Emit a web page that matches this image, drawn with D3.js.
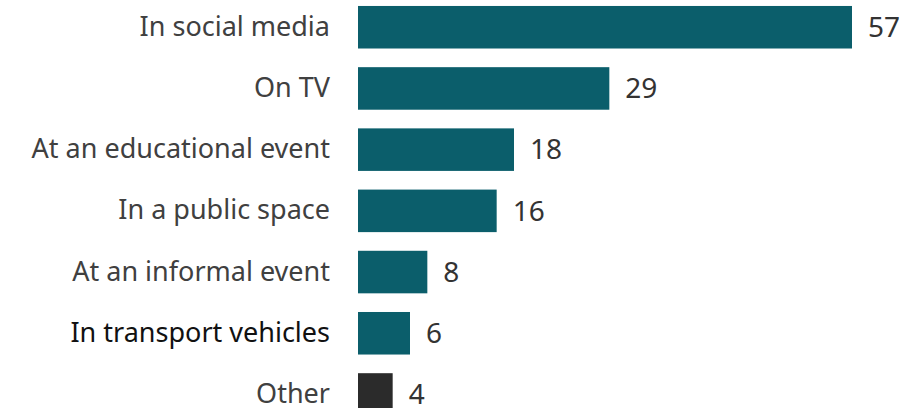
<!DOCTYPE html>
<html lang="en">
  <head>
    <meta charset="utf-8" />
    <title>Chart</title>
    <style>
      body { margin: 0; background: #fff; }
      text { font-family: "Noto Sans", "Open Sans", sans-serif; }
    </style>
  </head>
  <body>
    <div id="chart"></div>
    <script src="https://d3js.org/d3.v7.min.js"></script>
<script>
var categories = ["In social media", "On TV", "At an educational event", "In a public space",
  "At an informal event", "In transport vehicles", "Other"];
var values = [57, 29, 18, 16, 8, 6, 4];
var barColors = ["#0b5e6b", "#0b5e6b", "#0b5e6b", "#0b5e6b", "#0b5e6b", "#0b5e6b", "#2b2b2b"];
var labelColors = ["#404040", "#404040", "#404040", "#404040", "#404040", "#111111", "#404040"];

var width = 920,
  height = 408;

var svg = d3.select("#chart")
  .append("svg")
  .attr("width", width)
  .attr("height", height);

var x = d3.scaleLinear()
  .domain([0, 57])
  .range([358, 852]);

var y = d3.scaleBand()
  .domain(categories)
  .range([-12.7, 434.4])
  .padding(0.305);

var rows = svg.selectAll("g.row")
  .data(categories)
  .enter().append("g")
  .attr("class", "row");

rows.append("rect")
  .attr("x", x(0))
  .attr("y", function(d) { return y(d); })
  .attr("width", function(d, i) { return x(values[i]) - x(0); })
  .attr("height", y.bandwidth())
  .style("fill", function(d, i) { return barColors[i]; });

// category labels, right aligned against the bars
rows.append("text")
  .attr("x", 330)
  .attr("y", function(d) { return y(d) + y.bandwidth() / 2 - 1; })
  .attr("dy", "0.35em")
  .attr("text-anchor", "end")
  .style("font-size", "27px")
  .style("fill", function(d, i) { return labelColors[i]; })
  .text(function(d) { return d; });

rows.append("text")
  .attr("x", function(d, i) { return x(values[i]) + 16; })
  .attr("y", function(d) { return y(d) + y.bandwidth() / 2; })
  .attr("dy", "0.35em")
  .style("font-size", "28px")
  .style("fill", "#333333")
  .text(function(d, i) { return values[i]; });
</script>
  </body>
</html>
